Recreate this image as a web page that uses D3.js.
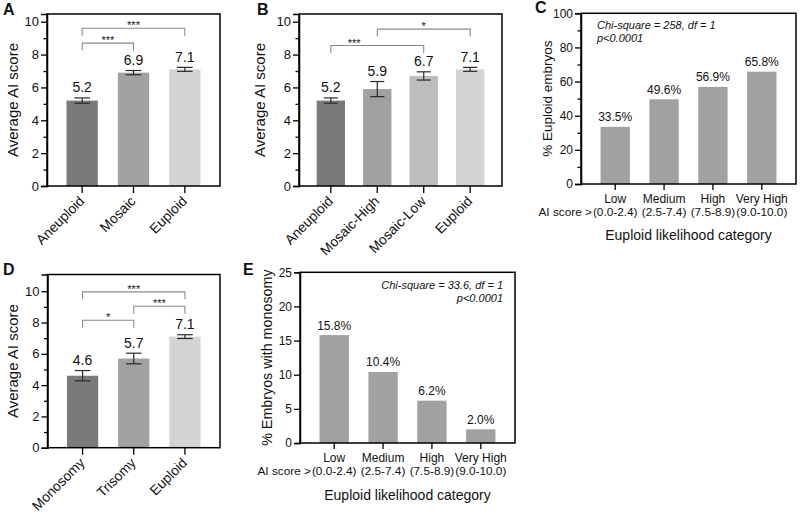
<!DOCTYPE html>
<html><head><meta charset="utf-8">
<script src="https://cdn.jsdelivr.net/npm/d3@7"></script>
<style>
body{margin:0;background:#fff}
svg{display:block}
text{font-family:"Liberation Sans",Arial,Helvetica,sans-serif;fill:#111}
</style>
</head><body><svg id="c" width="800" height="513"></svg>
<script>
// ---------- DATA ----------
const aiTicks=[0,2,4,6,8,10];
const aiMinor=[1,3,5,7,9];

const catsA=["Aneuploid","Mosaic","Euploid"];
const meanA=[5.2,6.9,7.1];
const semA=[0.16,0.13,0.12];
const colorA=["#7a7a7a","#a1a1a1","#d4d4d4"];
const bracketsA=[[0,2,"***",9.6],[0,1,"***",8.7]];

const catsB=["Aneuploid","Mosaic-High","Mosaic-Low","Euploid"];
const meanB=[5.2,5.9,6.7,7.1];
const semB=[0.16,0.46,0.25,0.12];
const colorB=["#7a7a7a","#a1a1a1","#bdbdbd","#d4d4d4"];
const bracketsB=[[0,2,"***",8.55,0.5],[1,3,"*",9.55]];

const catsD=["Monosomy","Trisomy","Euploid"];
const meanD=[4.6,5.7,7.1];
const semD=[0.33,0.34,0.12];
const colorD=["#7a7a7a","#a1a1a1","#d4d4d4"];
const bracketsD=[[0,2,"***",9.96],[1,2,"***",9.04],[0,1,"*",8.15]];

const likeCats=["Low","Medium","High","Very High"];
const likeRanges=["(0.0-2.4)","(2.5-7.4)","(7.5-8.9)","(9.0-10.0)"];
const pctEuploid=[33.5,49.6,56.9,65.8];
const pctMonosomy=[15.8,10.4,6.2,2.0];
const ticksC=[0,20,40,60,80,100];
const minorC=[10,30,50,70,90];
const ticksE=[0,5,10,15,20,25];

const svg=d3.select("#c");

function styleAxis(g){
  g.select(".domain").attr("stroke","#000").attr("stroke-width",1.5);
  g.selectAll(".tick line").attr("stroke","#000").attr("stroke-width",1.3);
  g.selectAll(".tick text").attr("fill","#111");
}

function frame(g,x0,x1,yb,yt){
  g.append("rect").attr("x",x0).attr("y",yt).attr("width",x1-x0).attr("height",yb-yt)
   .attr("fill","none").attr("stroke","#000").attr("stroke-width",1.5);
}

function barPanel(c){
  const g=svg.append("g");
  const x=d3.scaleBand().domain(c.cats).range([c.x0,c.x1]).paddingInner(0.39).paddingOuter(0.38);
  const y=d3.scaleLinear().domain([0,c.ymax]).range([c.yb,c.yt]);
  const bw=x.bandwidth();
  g.selectAll("rect.bar").data(c.cats).join("rect").attr("class","bar")
    .attr("x",d=>x(d)).attr("width",bw)
    .attr("y",(d,i)=>y(c.means[i])).attr("height",(d,i)=>y(0)-y(c.means[i]))
    .attr("fill",(d,i)=>c.colors[i]);
  const eb=g.append("g").attr("stroke","#2a2a2a").attr("stroke-width",1.2);
  c.cats.forEach((d,i)=>{
    const cx=x(d)+bw/2, hi=y(c.means[i]+c.sems[i]), lo=y(c.means[i]-c.sems[i]);
    eb.append("line").attr("x1",cx).attr("x2",cx).attr("y1",hi).attr("y2",lo);
    eb.append("line").attr("x1",cx-bw/4).attr("x2",cx+bw/4).attr("y1",hi).attr("y2",hi);
    eb.append("line").attr("x1",cx-bw/4).attr("x2",cx+bw/4).attr("y1",lo).attr("y2",lo);
    g.append("text").attr("x",cx).attr("y",hi-5.5).attr("text-anchor","middle")
      .attr("font-size",14).text(c.means[i].toFixed(1));
  });
  c.brackets.forEach(b=>{
    const xa=x(c.cats[b[0]])+bw/2, xb=x(c.cats[b[1]])+bw/2, yy=y(b[3]);
    g.append("path").attr("d",`M${xa},${yy+7.5}V${yy}H${xb}V${yy+7.5}`)
      .attr("fill","none").attr("stroke","#8a8a8a").attr("stroke-width",1.1);
    const lx = b.length>4 ? xa+x.step()*b[4] : (xa+xb)/2;
    g.append("text").attr("x",lx).attr("y",yy+1).attr("text-anchor","middle")
      .attr("font-size",11).attr("fill","#333").text(b[2]);
  });
  frame(g,c.x0,c.x1,c.yb,c.yt);
  const ya=g.append("g").attr("transform",`translate(${c.x0},0)`)
    .call(d3.axisLeft(y).tickValues(aiTicks).tickSize(6).tickPadding(2).tickFormat(d3.format("d")));
  ya.selectAll(".tick text").attr("font-size",13);
  styleAxis(ya);
  const ym=g.append("g").attr("transform",`translate(${c.x0},0)`)
    .call(d3.axisLeft(y).tickValues(aiMinor).tickSize(3.5).tickFormat(""));
  styleAxis(ym); ym.select(".domain").remove();
  const xa=g.append("g").attr("transform",`translate(0,${c.yb})`)
    .call(d3.axisBottom(x).tickSize(7).tickSizeOuter(0));
  styleAxis(xa);
  xa.select(".domain").remove();
  xa.selectAll(".tick text").attr("font-size",13.8).attr("text-anchor","end")
    .attr("y",0).attr("dy",0).attr("transform","translate(3,16) rotate(-45)");
  g.append("text").attr("transform",`translate(${c.ylabX},${(c.yb+c.yt)/2}) rotate(-90)`)
    .attr("text-anchor","middle").attr("font-size",15).text("Average AI score");
  svg.append("text").attr("x",c.lx).attr("y",c.ly).attr("font-size",16).attr("font-weight","bold").text(c.letter);
}

function catPanel(c){
  const g=svg.append("g");
  const x=d3.scaleBand().domain(likeCats).range([c.x0,c.x1]).paddingInner(0.4).paddingOuter(0.4);
  const y=d3.scaleLinear().domain([0,c.ymax]).range([c.yb,c.yt]);
  const bw=x.bandwidth();
  g.selectAll("rect.bar").data(likeCats).join("rect").attr("class","bar")
    .attr("x",d=>x(d)).attr("width",bw)
    .attr("y",(d,i)=>y(c.vals[i])).attr("height",(d,i)=>y(0)-y(c.vals[i]))
    .attr("fill","#a1a1a1");
  likeCats.forEach((d,i)=>{
    g.append("text").attr("x",x(d)+bw/2).attr("y",y(c.vals[i])-5.5).attr("text-anchor","middle")
      .attr("font-size",12).text(c.vals[i].toFixed(1)+"%");
  });
  frame(g,c.x0,c.x1,c.yb,c.yt);
  const ya=g.append("g").attr("transform",`translate(${c.x0},0)`)
    .call(d3.axisLeft(y).tickValues(c.ticks).tickSize(6).tickPadding(2).tickFormat(d3.format("d")));
  ya.selectAll(".tick text").attr("font-size",12);
  styleAxis(ya);
  if(c.minor){
    const ym=g.append("g").attr("transform",`translate(${c.x0},0)`)
      .call(d3.axisLeft(y).tickValues(c.minor).tickSize(3.5).tickFormat(""));
    styleAxis(ym); ym.select(".domain").remove();
  }
  const xa=g.append("g").attr("transform",`translate(0,${c.yb})`)
    .call(d3.axisBottom(x).tickSize(6).tickSizeOuter(0).tickFormat(""));
  styleAxis(xa); xa.select(".domain").remove();
  likeCats.forEach((d,i)=>{
    const cx=x(d)+bw/2;
    g.append("text").attr("x",cx).attr("y",c.yb+19).attr("text-anchor","middle").attr("font-size",12).text(d);
    const t=g.append("text").attr("x",cx).attr("y",c.yb+32).attr("text-anchor","middle").attr("font-size",11.8).text(likeRanges[i]);
    if(i===0){
      const w=t.node().getComputedTextLength();
      g.append("text").attr("x",cx-w/2-1).attr("y",c.yb+32).attr("text-anchor","end").attr("font-size",11.8).text("AI score >");
    }
  });
  g.append("text").attr("x",(c.x0+c.x1)/2).attr("y",c.yb+c.titleDy).attr("text-anchor","middle")
    .attr("font-size",14).text("Euploid likelihood category");
  g.append("text").attr("transform",`translate(${c.ylabX},${(c.yb+c.yt)/2}) rotate(-90)`)
    .attr("text-anchor","middle").attr("font-size",c.ylabSize).text(c.ylab);
  c.stat.forEach((s,k)=>{
    g.append("text").attr("x",c.statX).attr("y",c.statY+k*12.5).attr("text-anchor",c.statAnchor)
      .attr("font-size",11).attr("font-style","italic").text(s);
  });
  svg.append("text").attr("x",c.lx).attr("y",c.ly).attr("font-size",16).attr("font-weight","bold").text(c.letter);
}

barPanel({cats:catsA,means:meanA,sems:semA,colors:colorA,brackets:bracketsA,
  x0:47,x1:220,yb:186,yt:14,ymax:10.47,ylabX:18,letter:"A",lx:3,ly:15});
barPanel({cats:catsB,means:meanB,sems:semB,colors:colorB,brackets:bracketsB,
  x0:299,x1:502,yb:186,yt:14,ymax:10.47,ylabX:265,letter:"B",lx:257,ly:15});
barPanel({cats:catsD,means:meanD,sems:semD,colors:colorD,brackets:bracketsD,
  x0:47.5,x1:220,yb:447.7,yt:274.5,ymax:11.07,ylabX:18,letter:"D",lx:3,ly:275});
catPanel({vals:pctEuploid,ymax:100,ticks:ticksC,minor:minorC,x0:581,x1:796,yb:184,yt:13.3,
  ylab:"% Euploid embryos",ylabX:551.5,ylabSize:13.5,titleDy:56,
  stat:["Chi-square = 258, df = 1","p<0.0001"],statX:597,statY:29,statAnchor:"start",
  letter:"C",lx:535,ly:13});
catPanel({vals:pctMonosomy,ymax:25,ticks:ticksE,minor:null,x0:300,x1:515,yb:443,yt:272.3,
  ylab:"% Embryos with monosomy",ylabX:272,ylabSize:14.3,titleDy:57,
  stat:["Chi-square = 33.6, df = 1","p<0.0001"],statX:503,statY:289,statAnchor:"end",
  letter:"E",lx:243,ly:275});
</script>
</body></html>
